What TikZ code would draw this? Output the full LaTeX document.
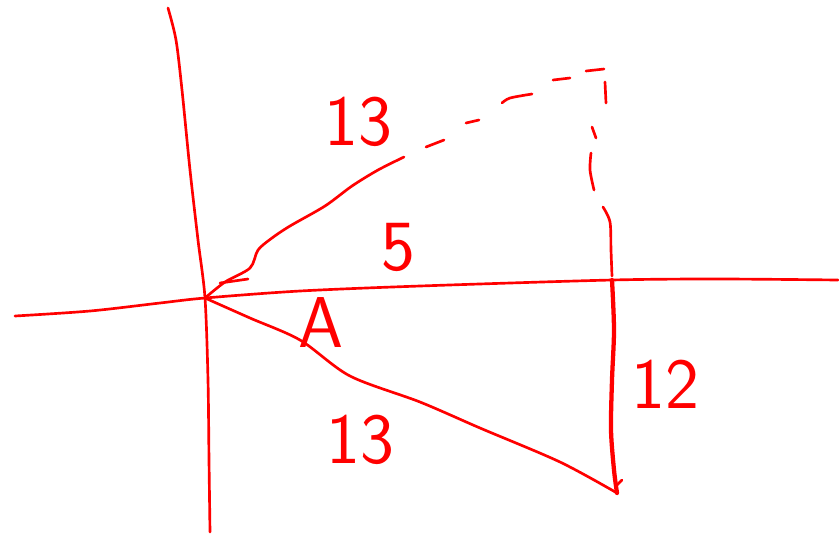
\documentclass[tikz,border=0pt]{standalone}
\usetikzlibrary{calc}
\definecolor{pen}{RGB}{255,0,0}
\tikzset{
  ink/.style={draw=pen, line width=2pt, line cap=round, line join=round},
  thick ink/.style={draw=pen, line width=3.2pt, line cap=round, line join=round},
  lbl/.style={text=pen, font=\sffamily\fontsize{54}{54}\selectfont, inner sep=0pt},
}
\begin{document}
\begin{tikzpicture}[x=0.75pt, y=-0.75pt]
\useasboundingbox (0,0) rectangle (839,537);
% points
\coordinate (O) at (205,298);
\coordinate (P) at (612,280);
\coordinate (Q) at (617,493);
\coordinate (R) at (606,66);
% vertical axis
\draw[ink] plot[smooth] coordinates {(168,8) (176,40) (182,90) (190,170) (198,240) (205,298) (208,380) (209,460) (210,532)};
% horizontal axis
\draw[ink] plot[smooth] coordinates {(15,316) (90,311) (160,303) (205,298) (300,291) (420,286) (612,280) (720,279) (838,280)};
% lower hypotenuse
\draw[ink] plot[smooth] coordinates {(O) (250,318) (300,340) (350,376) (420,402) (480,428) (560,462) (Q)};
% vertical side 12
\draw[thick ink] plot[smooth] coordinates {(P) (614,330) (612,380) (611,430) (614,470) (Q)};
\draw[ink] (617,485) -- (622,480);
% upper solid curve
\draw[ink] plot[smooth] coordinates {(O) (225,282) (250,268) (258,250) (272,238) (290,226) (325,206) (352,186) (378,170) (404,157)};
\draw[ink] (220,283) -- (248,279);
% upper dashes
\draw[ink] (426,147) -- (444,140);
\draw[ink] (466,123) -- (479,120);
\draw[ink] plot[smooth] coordinates {(502,103) (510,98) (532,94)};
\draw[ink] (553,80) -- (570,78);
\draw[ink] (586,71) -- (604,69);
% vertical dashes
\draw[ink] (605,82) -- (606,103);
\draw[ink] (592,127) -- (596,138);
\draw[ink] plot[smooth] coordinates {(591,153) (590,170) (594,190)};
\draw[ink] plot[smooth] coordinates {(603,207) (610,222) (611,250) (612,276)};
% labels
\node[lbl] (l13a) at (358,122) {13};
\node[lbl] (l5) at (398,247) {5};
\node[lbl] (lA) at (321,323) {A};
\node[lbl] (l13b) at (360,440) {13};
\node[lbl] (l12) at (665,384) {12};
\end{tikzpicture}
\end{document}
